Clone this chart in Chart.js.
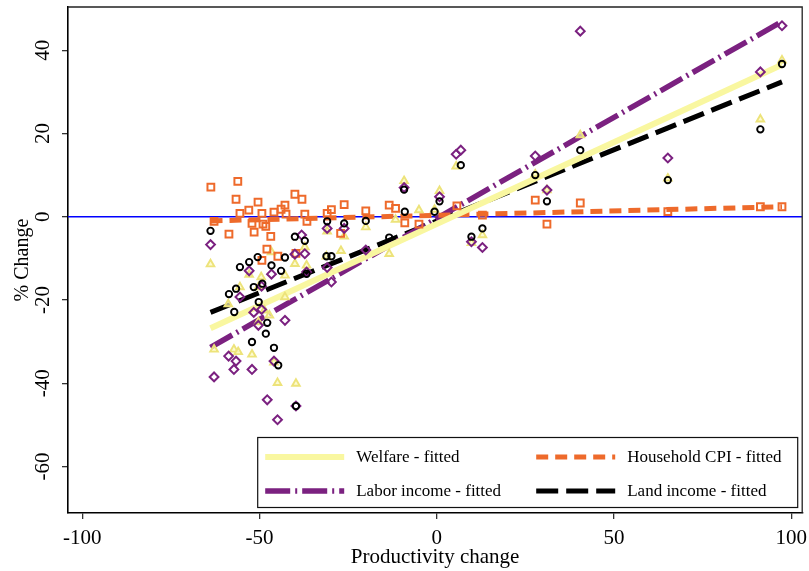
<!DOCTYPE html>
<html><head><meta charset="utf-8">
<script src="https://cdn.jsdelivr.net/npm/chart.js@4"></script>
<style>html,body{margin:0;padding:0;background:#fff;}canvas{display:block;}</style>
</head><body>
<canvas id="c" width="809" height="571"></canvas>
<script>
// ---- data ----
const welfareX = [-63.8,-62.8,-58.8,-57.2,-56.0,-55.5,-52.9,-52.1,-50.3,-50.3,-49.5,-48.6,-47.2,-46.6,-45.9,-44.9,-42.8,-42.8,-40.0,-39.7,-37.2,-36.7,-31.1,-30.9,-27.0,-26.1,-20.0,-13.4,-11.6,-9.2,-5.0,-0.6,0.8,5.5,9.8,12.9,27.8,31.1,40.5,65.2,91.3,97.4];
const welfareY = [-11.4,-31.9,-21.0,-31.9,-32.5,-16.9,-13.9,-33.1,-16.9,-25.3,-14.5,-22.5,-23.7,-8.5,-35.0,-39.9,-14.1,-19.3,-11.3,-40.1,-7.3,-11.7,-9.5,-3.5,-8.2,-4.7,-2.5,-8.9,-0.7,8.6,1.6,1.7,6.2,12.1,-6.3,-4.4,10.2,6.4,19.6,9.2,23.4,37.6];

const cpiX = [-63.7,-56.1,-56.6,-50.4,-53.0,-55.5,-49.3,-45.9,-43.9,-42.8,-40.0,-38.0,-37.2,-42.5,-62.8,-52.1,-49.0,-48.2,-58.6,-51.5,-46.8,-36.6,-47.9,-49.3,-44.8,-39.7,-29.7,-30.9,-27.1,-26.1,-20.0,-13.4,-11.6,-9.0,-5.0,5.7,12.9,27.8,31.1,40.5,65.2,91.3,97.4];
const cpiY = [7.1,8.5,4.2,3.5,1.6,0.8,0.8,1.1,1.8,2.8,5.4,4.2,0.6,0.6,-1.1,-1.6,-1.8,-2.3,-4.2,-3.7,-4.7,-1.1,-7.8,-10.5,-9.5,-8.8,1.7,0.8,-4.0,2.9,1.4,2.8,2.0,-1.5,-1.8,2.6,0.4,4.0,-1.8,3.3,1.2,2.4,2.4];

const laborX = [-63.8,-62.8,-58.7,-56.6,-57.2,-55.5,-52.9,-52.1,-51.6,-50.3,-49.4,-49.4,-46.6,-45.9,-47.8,-44.9,-42.8,-40.0,-39.7,-38.1,-36.7,-37.2,-30.9,-29.7,-30.9,-26.1,-20.0,-9.2,0.8,5.5,6.8,9.8,12.9,27.8,31.1,40.5,65.2,91.3,97.4];
const laborY = [-6.7,-38.5,-33.5,-34.7,-36.7,-19.3,-13.0,-36.7,-23.0,-26.1,-16.7,-22.3,-13.8,-34.7,-44.0,-48.8,-24.9,-9.0,-45.5,-4.4,-13.3,-8.9,-12.2,-15.7,-2.8,-2.8,-8.0,7.0,4.8,15.0,16.0,-6.0,-7.4,14.6,6.4,44.6,14.1,34.8,45.9];

const landX = [-63.8,-58.6,-57.1,-56.6,-55.5,-52.9,-52.1,-50.5,-51.6,-50.2,-49.2,-47.8,-48.2,-46.6,-45.9,-44.7,-43.9,-42.8,-40.0,-39.7,-37.2,-36.7,-31.1,-29.7,-30.9,-26.1,-20.0,-13.4,-9.2,-9.0,-0.6,0.8,6.8,9.8,12.9,27.8,31.1,40.5,65.2,91.3,97.4];
const landY = [-3.4,-18.6,-22.9,-17.3,-12.1,-10.9,-30.1,-9.7,-16.9,-20.5,-16.1,-25.5,-28.1,-11.7,-31.5,-35.7,-13.0,-9.8,-4.8,-45.5,-5.8,-13.7,-9.5,-9.5,-1.1,-1.6,-1.0,-5.0,6.5,1.2,1.2,3.7,12.4,-4.8,-2.8,10.0,3.7,16.0,8.8,21.0,36.7];

// fitted lines (end points)
const fitX = [-63.8, 97.4];
const welfareFit = [-26.8, 36.5];
const cpiFit = [-1.0, 2.4];
const laborFit = [-31.4, 46.9];
const landFit = [-23.0, 32.4];

const xTicks = [-100, -50, 0, 50, 100];
const yTicks = [-60, -40, -20, 0, 20, 40];
const xRange = [-104, 103.1];
const yRange = [-71.2, 50.4];

const SERIF = "'Liberation Serif','Times New Roman',serif";
Chart.defaults.font.family = SERIF;
Chart.defaults.color = '#000';

const pts = (xs, ys) => xs.map((x, i) => ({x: x, y: ys[i]}));

const COL = {welfare:'#f9f7a0', welfarePt:'#ede37a', cpi:'#ee6a2b', labor:'#7b2180', land:'#000000'};

const datasets = [
  {type:'scatter', label:'Land income', data:pts(landX, landY), pointStyle:'circle', pointRadius:3.2, pointBorderWidth:1.9, borderColor:COL.land, backgroundColor:'rgba(255,255,255,0)', order:1},
  {type:'scatter', label:'Labor income', data:pts(laborX, laborY), pointStyle:'rectRot', pointRadius:4.4, pointBorderWidth:2, borderColor:COL.labor, backgroundColor:'rgba(255,255,255,0)', order:1},
  {type:'scatter', label:'Household CPI', data:pts(cpiX, cpiY), pointStyle:'rect', pointRadius:4.8, pointBorderWidth:2, borderColor:COL.cpi, backgroundColor:'rgba(255,255,255,0)', order:1},
  {type:'scatter', label:'Welfare', data:pts(welfareX, welfareY), pointStyle:'triangle', pointRadius:4.4, pointBorderWidth:1.9, borderColor:COL.welfarePt, backgroundColor:'rgba(252,250,190,0.7)', order:1},
  {type:'line', label:'Welfare - fitted', legend:true, data:pts(fitX, welfareFit), borderColor:COL.welfare, borderWidth:6, borderDash:[], pointRadius:0, fill:false, order:2},
  {type:'line', label:'Household CPI - fitted', legend:true, data:pts(fitX, cpiFit), borderColor:COL.cpi, borderWidth:5, borderDash:[12,7], pointRadius:0, fill:false, order:2},
  {type:'line', label:'Labor income - fitted', legend:true, data:pts(fitX, laborFit), borderColor:COL.labor, borderWidth:5.5, borderDash:[25,5,2,5], pointRadius:0, fill:false, order:2},
  {type:'line', label:'Land income - fitted', legend:true, data:pts(fitX, landFit), borderColor:COL.land, borderWidth:5, borderDash:[22,8], pointRadius:0, fill:false, order:2}
];

const zeroLine = {
  id:'zeroLine',
  beforeDatasetsDraw(chart){
    const {ctx, chartArea:a, scales:{y}} = chart;
    const py = y.getPixelForValue(0);
    ctx.save();
    ctx.strokeStyle = '#0000ff'; ctx.lineWidth = 1.6;
    ctx.beginPath(); ctx.moveTo(a.left, py); ctx.lineTo(a.right, py); ctx.stroke();
    ctx.restore();
  }
};

const frame = {
  id:'frame',
  afterDatasetsDraw(chart){
    const {ctx, chartArea:a} = chart;
    ctx.save();
    ctx.strokeStyle = '#222'; ctx.lineWidth = 1.3;
    ctx.beginPath();
    ctx.moveTo(a.left, a.top); ctx.lineTo(a.right, a.top); ctx.lineTo(a.right, a.bottom);
    ctx.stroke();
    // legend box
    const bw = 540, bh = 70;
    const bx = a.right - 5 - bw, by = a.bottom - 6 - bh;
    ctx.fillStyle = '#fff';
    ctx.fillRect(bx, by, bw, bh);
    ctx.strokeStyle = '#111'; ctx.lineWidth = 1.2;
    ctx.strokeRect(bx + 0.5, by + 0.5, bw, bh);
    const items = chart.data.datasets.filter(d => d.legend);
    const cols = [bx + 8, bx + 279];
    const rows = [by + 20, by + 54];
    ctx.font = '17px ' + SERIF;
    ctx.textBaseline = 'middle';
    ctx.textAlign = 'left';
    items.forEach((d, i) => {
      const cx = cols[i % 2], cy = rows[Math.floor(i / 2)];
      ctx.save();
      ctx.strokeStyle = d.borderColor; ctx.lineWidth = d.borderWidth;
      ctx.setLineDash(d.borderDash || []);
      ctx.lineCap = 'butt';
      ctx.beginPath(); ctx.moveTo(cx, cy); ctx.lineTo(cx + 79, cy); ctx.stroke();
      ctx.restore();
      ctx.fillStyle = '#000';
      ctx.fillText(d.label, cx + 91, cy + 1);
    });
    ctx.restore();
  }
};

new Chart(document.getElementById('c'), {
  data:{datasets:datasets},
  options:{
    responsive:false, animation:false, devicePixelRatio:1,
    layout:{padding:{top:7, right:6, left:0, bottom:0}},
    plugins:{legend:{display:false}, tooltip:{enabled:false}},
    scales:{
      x:{type:'linear', min:xRange[0], max:xRange[1],
        afterBuildTicks(s){ s.ticks = xTicks.map(v => ({value:v})); },
        afterFit(s){ s.height = 58; s.paddingLeft = 0; s.paddingRight = 0; },
        ticks:{font:{size:21}, color:'#000', padding:7, maxRotation:0, autoSkip:false},
        grid:{display:true, drawOnChartArea:false, drawTicks:true, tickLength:6, color:'#333', lineWidth:1.3},
        border:{display:true, color:'#000', width:1.6},
        title:{display:true, text:'Productivity change', font:{size:21}, color:'#000', padding:{top:0, bottom:1}}
      },
      y:{type:'linear', min:yRange[0], max:yRange[1],
        afterBuildTicks(s){ s.ticks = yTicks.map(v => ({value:v})); },
        afterFit(s){ s.width = 68; s.paddingTop = 0; s.paddingBottom = 0; },
        ticks:{font:{size:21}, color:'#000', padding:5, minRotation:90, maxRotation:90, crossAlign:'center', autoSkip:false},
        grid:{display:true, drawOnChartArea:false, drawTicks:true, tickLength:6, color:'#333', lineWidth:1.3},
        border:{display:true, color:'#000', width:1.6},
        title:{display:true, text:'% Change', font:{size:20}, color:'#000', padding:{top:11, bottom:0}}
      }
    }
  },
  plugins:[zeroLine, frame]
});
</script>
</body></html>
